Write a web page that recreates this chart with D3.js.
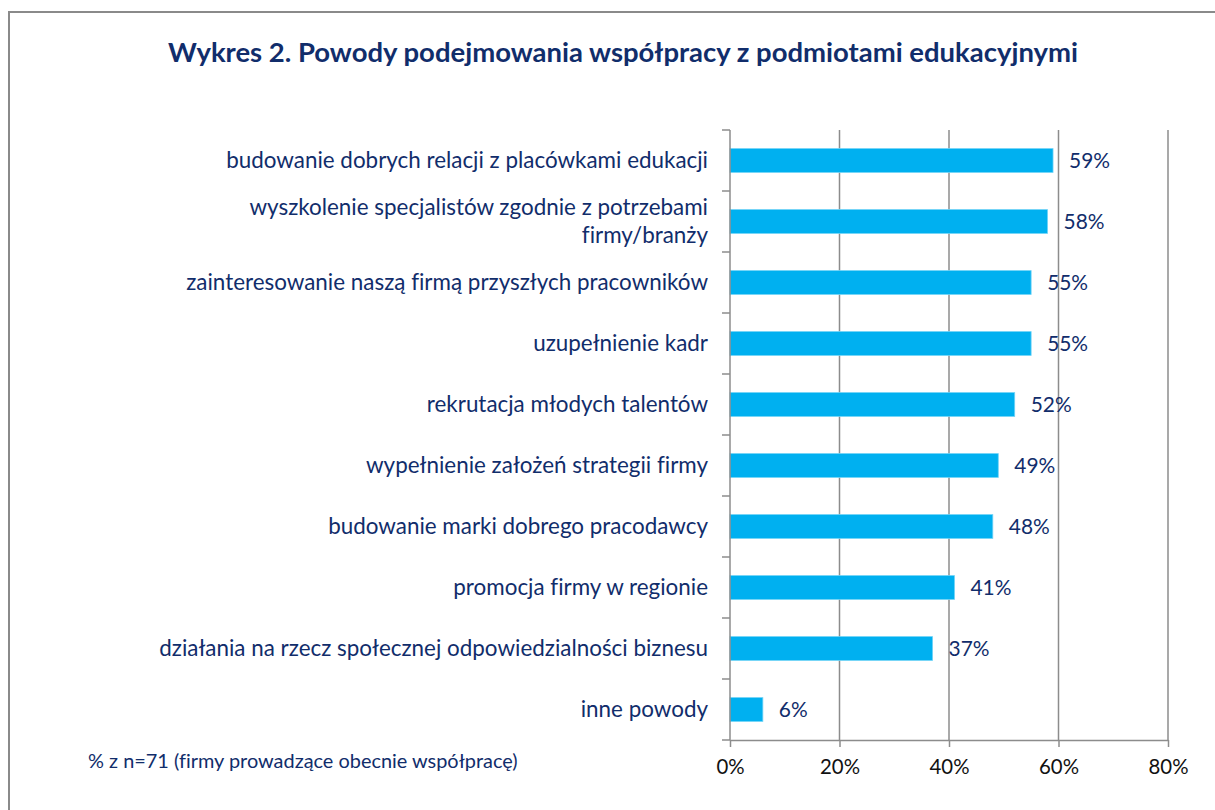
<!DOCTYPE html>
<html>
<head>
<meta charset="utf-8">
<script src="https://cdn.jsdelivr.net/npm/d3@7"></script>
<style>
  body { margin: 0; background: #fff; }
  svg { display: block; font-family: Lato, "Open Sans", sans-serif; font-variant-ligatures: none; }
</style>
</head>
<body>
<div id="chart"></div>
<script>
// chart data
const titleText = "Wykres 2. Powody podejmowania współpracy z podmiotami edukacyjnymi";
const noteText = "% z n=71 (firmy prowadzące obecnie współpracę)";
const categories = [
  ["budowanie dobrych relacji z placówkami edukacji"],
  ["wyszkolenie specjalistów zgodnie z potrzebami", "firmy/branży"],
  ["zainteresowanie naszą firmą przyszłych pracowników"],
  ["uzupełnienie kadr"],
  ["rekrutacja młodych talentów"],
  ["wypełnienie założeń strategii firmy"],
  ["budowanie marki dobrego pracodawcy"],
  ["promocja firmy w regionie"],
  ["działania na rzecz społecznej odpowiedzialności biznesu"],
  ["inne powody"]
];
const values = [59, 58, 55, 55, 52, 49, 48, 41, 37, 6];
const xTicks = [0, 20, 40, 60, 80];

const width = 1215, height = 810;
const navy = "#112d6b";
const gridColor = "#8c8c8c";
const barColor = "#00b0f0";

const svg = d3.select("#chart").append("svg")
  .attr("width", width)
  .attr("height", height);

// outer frame (only left and top edges are visible in the picture)
svg.append("rect")
  .attr("x", 9).attr("y", 12)
  .attr("width", width).attr("height", height)
  .attr("fill", "none")
  .attr("stroke", "#8a8a8a")
  .attr("stroke-width", 2);

// shrink/grow a text so it spans the given width
function fitWidth(sel, target) {
  const node = sel.node();
  const fs = parseFloat(sel.attr("font-size"));
  const w = node.getComputedTextLength();
  sel.attr("font-size", (fs * target / w).toFixed(2));
}

const title = svg.append("text")
  .attr("x", 623).attr("y", 62)
  .attr("text-anchor", "middle")
  .attr("font-size", 26)
  .attr("font-weight", "bold")
  .attr("fill", navy)
  .text(titleText);
fitWidth(title, 910);

const x = d3.scaleLinear().domain([0, 80]).range([730, 1168]);
const y = d3.scaleBand()
  .domain(d3.range(categories.length))
  .range([130, 740])
  .paddingInner(0.61)
  .paddingOuter(0.305);

const plot = svg.append("g");

// vertical gridlines
plot.selectAll(".grid")
  .data(xTicks.slice(1))
  .enter().append("line")
  .attr("class", "grid")
  .attr("x1", d => x(d)).attr("x2", d => x(d))
  .attr("y1", 130).attr("y2", 740)
  .attr("stroke", gridColor)
  .attr("stroke-width", 1.5);

// bars
plot.selectAll(".bar")
  .data(values)
  .enter().append("rect")
  .attr("class", "bar")
  .attr("x", x(0))
  .attr("y", (d, i) => y(i))
  .attr("width", d => x(d) - x(0))
  .attr("height", y.bandwidth())
  .attr("fill", barColor)
  .attr("stroke", "#6fd3f7")
  .attr("stroke-width", 0.8);

// bottom axis
const xAxis = d3.axisBottom(x)
  .tickValues(xTicks)
  .tickFormat(d => d + "%")
  .tickSize(7)
  .tickSizeOuter(0)
  .tickPadding(13);
const gx = svg.append("g")
  .attr("transform", "translate(0,740)")
  .call(xAxis);
gx.select(".domain").attr("stroke", gridColor).attr("stroke-width", 1.5);
gx.selectAll(".tick line").attr("stroke", gridColor).attr("stroke-width", 1.5);
gx.selectAll(".tick text")
  .attr("font-family", "Lato, sans-serif")
  .attr("font-size", 20)
  .attr("fill", "#111");

// left axis: band boundaries carry the ticks
const bounds = d3.range(categories.length + 1).map(i => 130 + i * (610 / categories.length));
const gy = svg.append("g");
gy.append("line")
  .attr("x1", x(0)).attr("x2", x(0))
  .attr("y1", 130).attr("y2", 740)
  .attr("stroke", gridColor).attr("stroke-width", 1.5);
gy.selectAll(".ytick")
  .data(bounds)
  .enter().append("line")
  .attr("x1", x(0) - 8).attr("x2", x(0))
  .attr("y1", d => d).attr("y2", d => d)
  .attr("stroke", gridColor).attr("stroke-width", 1.5);

// category labels
const catFont = 20;
const labels = svg.selectAll(".cat")
  .data(categories)
  .enter().append("text")
  .attr("class", "cat")
  .attr("text-anchor", "end")
  .attr("font-size", catFont)
  .attr("fill", navy);
labels.each(function (lines, i) {
  const t = d3.select(this);
  const cy = y(i) + y.bandwidth() / 2;
  const lh = 28;
  lines.forEach((ln, k) => {
    t.append("tspan")
      .attr("x", 708)
      .attr("y", cy + (k - (lines.length - 1) / 2) * lh)
      .attr("dy", "0.35em")
      .text(ln);
  });
});
// scale the label font so the first label spans as in the picture
const first = labels.filter((d, i) => i === 0).node();
const scaleCat = 482 / first.getComputedTextLength();
labels.attr("font-size", (catFont * scaleCat).toFixed(2));

// value labels
const valFont = 20;
const vals = svg.selectAll(".val")
  .data(values)
  .enter().append("text")
  .attr("class", "val")
  .attr("x", d => x(d) + 16)
  .attr("y", (d, i) => y(i) + y.bandwidth() / 2)
  .attr("dy", "0.35em")
  .attr("font-size", valFont)
  .attr("fill", navy)
  .text(d => d + "%");
const scaleVal = 41 / vals.node().getComputedTextLength();
vals.attr("font-size", (valFont * scaleVal).toFixed(2));
const scaleTick = 40 / gx.selectAll(".tick text").nodes()[1].getComputedTextLength();
gx.selectAll(".tick text").attr("font-size", (20 * scaleTick).toFixed(2));

// footnote
const note = svg.append("text")
  .attr("x", 88).attr("y", 768)
  .attr("font-size", 17)
  .attr("fill", navy)
  .text(noteText);
fitWidth(note, 430);
</script>
</body>
</html>
